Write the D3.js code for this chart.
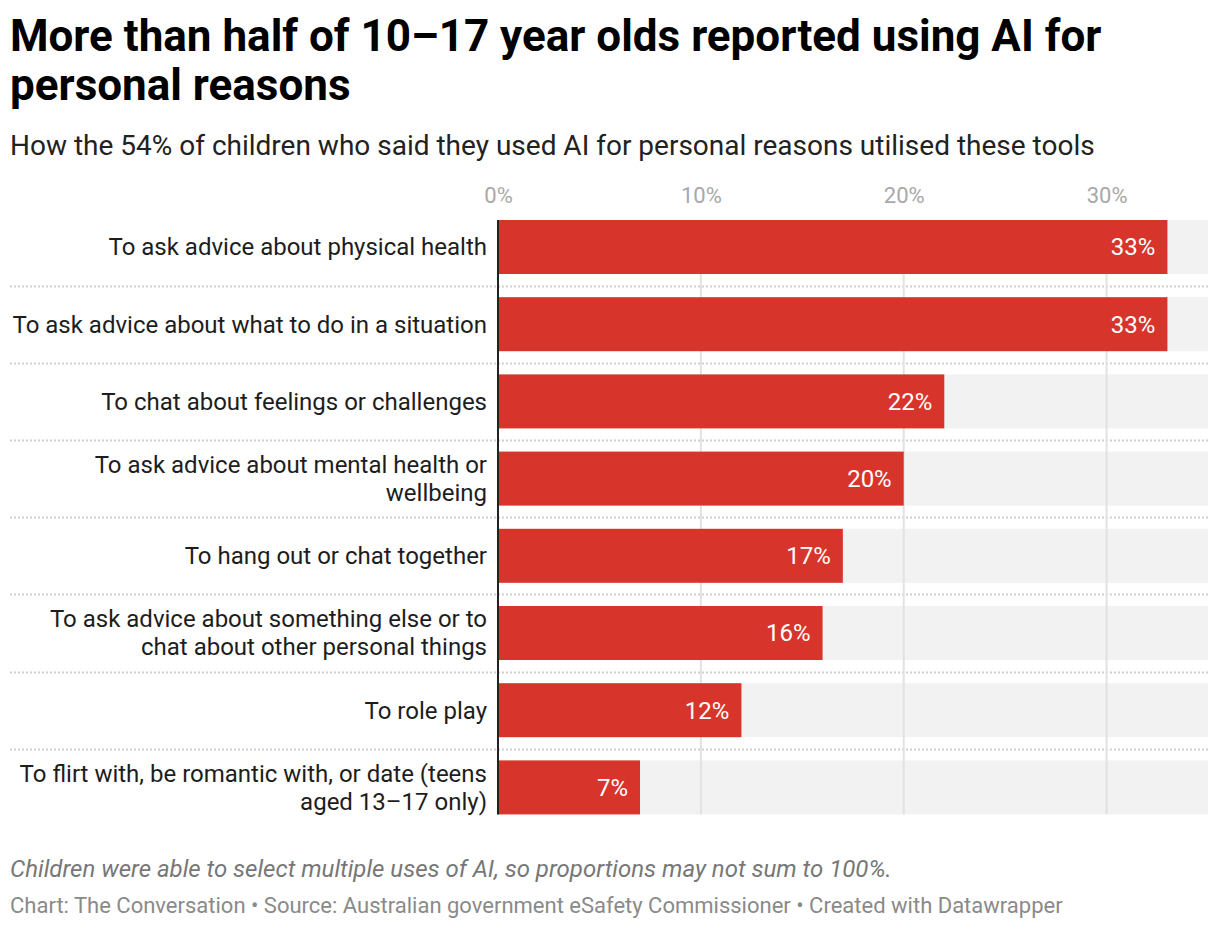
<!DOCTYPE html>
<html>
<head>
<meta charset="utf-8">
<script src="https://cdn.jsdelivr.net/npm/d3@7"></script>
<style>
  body { margin: 0; background: #fff; font-family: Roboto, sans-serif; }
  svg text { font-family: Roboto, sans-serif; }
</style>
</head>
<body>
<div id="app"></div>
<script>
var categories = [
    'To ask advice about physical health',
    'To ask advice about what to do in a situation',
    'To chat about feelings or challenges',
    'To ask advice about mental health or wellbeing',
    'To hang out or chat together',
    'To ask advice about something else or to chat about other personal things',
    'To role play',
    'To flirt with, be romantic with, or date (teens aged 13\u201317 only)'
];
var values = [33, 33, 22, 20, 17, 16, 12, 7];
var tickValues = [0, 10, 20, 30];

var titleLines = [
    'More than half of 10\u201317 year olds reported using AI for',
    'personal reasons'
];
var subtitle = 'How the 54% of children who said they used AI for personal reasons utilised these tools';
var note = 'Children were able to select multiple uses of AI, so proportions may not sum to 100%.';
var credits = 'Chart: The Conversation \u2022 Source: Australian government eSafety Commissioner \u2022 Created with Datawrapper';

var width = 1220, height = 932;
var red = '#d7352b', bgGrey = '#f2f2f2';

var svg = d3.select('#app')
    .append('svg')
    .attr('width', width)
    .attr('height', height);

// header
svg.selectAll('text.title')
    .data(titleLines)
    .enter().append('text')
    .attr('class', 'title')
    .attr('x', 10)
    .attr('y', function(d, i) { return 51 + i * 49; })
    .attr('font-size', 44)
    .attr('font-weight', 700)
    .attr('fill', '#000')
    .text(function(d) { return d; });

svg.append('text')
    .attr('x', 10)
    .attr('y', 155)
    .attr('font-size', 28)
    .attr('fill', '#222')
    .text(subtitle);

// scales
var x = d3.scaleLinear().domain([0, 35]).range([498, 1208]);
// rows are ~77px apart with ~54px bars
var y = d3.scaleBand()
    .domain(categories)
    .range([220, 220 + 77.2 * 8 - 23.2])
    .paddingInner(23.2 / 77.2)
    .paddingOuter(0);

// separators between rows
svg.selectAll('line.sep')
    .data(categories.slice(1))
    .enter().append('line')
    .attr('class', 'sep')
    .attr('x1', 10)
    .attr('x2', 1208)
    .attr('y1', function(d) { return Math.round(y(d) - (y.step() - y.bandwidth()) / 2) + 0.5; })
    .attr('y2', function(d) { return Math.round(y(d) - (y.step() - y.bandwidth()) / 2) + 0.5; })
    .attr('stroke', '#cfcfcf')
    .attr('stroke-width', 2)
    .attr('stroke-dasharray', '2,2');

// background bars
svg.selectAll('rect.bg')
    .data(categories)
    .enter().append('rect')
    .attr('class', 'bg')
    .attr('x', x(0))
    .attr('y', function(d) { return y(d); })
    .attr('width', x(35) - x(0))
    .attr('height', y.bandwidth())
    .attr('fill', bgGrey);

// x axis at top with gridlines
var xAxis = d3.axisTop(x)
    .tickValues(tickValues)
    .tickFormat(function(d) { return d + '%'; })
    .tickSize(0);

var axisG = svg.append('g')
    .attr('transform', 'translate(0,203)')
    .call(xAxis);
axisG.select('.domain').remove();
axisG.selectAll('text')
    .attr('font-size', 22)
    .attr('fill', '#a8a8a8')
    .attr('dy', 0)
    .attr('y', 0);

svg.selectAll('line.grid')
    .data(tickValues.slice(1))
    .enter().append('line')
    .attr('class', 'grid')
    .attr('x1', function(d) { return x(d); })
    .attr('x2', function(d) { return x(d); })
    .attr('y1', 220)
    .attr('y2', y(categories[categories.length - 1]) + y.bandwidth())
    .attr('stroke', '#e2e2e2')
    .attr('stroke-width', 2);

// value bars
svg.selectAll('rect.bar')
    .data(values)
    .enter().append('rect')
    .attr('class', 'bar')
    .attr('x', x(0))
    .attr('y', function(d, i) { return y(categories[i]); })
    .attr('width', function(d) { return x(d) - x(0); })
    .attr('height', y.bandwidth())
    .attr('fill', red);

svg.selectAll('text.val')
    .data(values)
    .enter().append('text')
    .attr('class', 'val')
    .attr('x', function(d) { return x(d) - 12; })
    .attr('y', function(d, i) { return y(categories[i]) + y.bandwidth() / 2; })
    .attr('dy', '0.35em')
    .attr('text-anchor', 'end')
    .attr('font-size', 24)
    .attr('fill', '#fff')
    .text(function(d) { return d + '%'; });

// y axis line
svg.append('line')
    .attr('x1', x(0))
    .attr('x2', x(0))
    .attr('y1', 220)
    .attr('y2', y(categories[categories.length - 1]) + y.bandwidth())
    .attr('stroke', '#222')
    .attr('stroke-width', 2);

// category labels, wrapped
var labelWidth = 476;
svg.selectAll('text.cat')
    .data(categories)
    .enter().append('text')
    .attr('class', 'cat')
    .attr('text-anchor', 'end')
    .attr('font-size', 24)
    .attr('fill', '#1d1d1d')
    .each(function(d) {
        var el = d3.select(this);
        var words = d.split(' '), lines = [], line = [];
        var probe = el.append('tspan');
        words.forEach(function(w) {
            line.push(w);
            probe.text(line.join(' '));
            if (probe.node().getComputedTextLength() > labelWidth && line.length > 1) {
                line.pop();
                lines.push(line.join(' '));
                line = [w];
            }
        });
        lines.push(line.join(' '));
        probe.remove();
        var cy = y(d) + y.bandwidth() / 2;
        var lh = 28;
        lines.forEach(function(l, i) {
            el.append('tspan')
                .attr('x', 487)
                .attr('y', cy + (i - (lines.length - 1) / 2) * lh)
                .attr('dy', '0.35em')
                .text(l);
        });
    });

// footer
svg.append('text')
    .attr('x', 10)
    .attr('y', 877)
    .attr('font-size', 24)
    .attr('font-style', 'italic')
    .attr('fill', '#777')
    .text(note);

svg.append('text')
    .attr('x', 10)
    .attr('y', 913)
    .attr('font-size', 22)
    .attr('fill', '#8a8a8a')
    .text(credits);
</script>
</body>
</html>
